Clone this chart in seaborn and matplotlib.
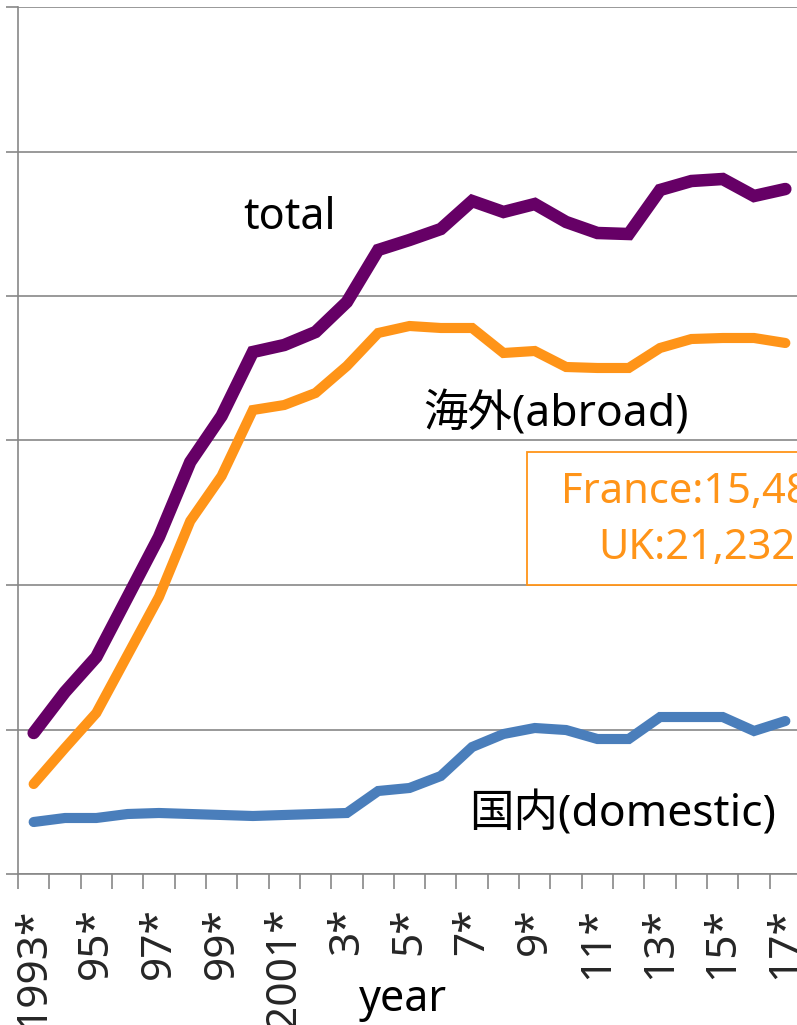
import numpy as np
import pandas as pd
import matplotlib
matplotlib.use("Agg")
import matplotlib.pyplot as plt
import matplotlib.patches as mpatches
import seaborn as sns

years = list(range(1993, 2018))
total = [4879, 6298, 7509, 9585, 11661, 14256, 15848, 18062, 18304, 18754, 19792,
         21592, 21938, 22318, 23287, 22907, 23183, 22561, 22180, 22145, 23668,
         23979, 24048, 23460, 23702]
abroad = [3114, 4360, 5571, 7578, 9585, 12214, 13772, 16055, 16228, 16644, 17578,
          18720, 18962, 18893, 18893, 18028, 18097, 17543, 17509, 17509, 18201,
          18512, 18547, 18547, 18374]
domestic = [1799, 1938, 1938, 2076, 2111, 2076, 2042, 2007, 2042, 2076, 2111,
            2872, 2976, 3391, 4394, 4844, 5052, 4982, 4671, 4671, 5432,
            5432, 5432, 4948, 5294]
tick_years = [1993, 1995, 1997, 1999, 2001, 2003, 2005, 2007, 2009, 2011, 2013, 2015, 2017]
tick_labels = ["1993*", "95*", "97*", "99*", "2001*", "3*", "5*", "7*", "9*",
               "11*", "13*", "15*", "17*"]
y_grid = [0, 5000, 10000, 15000, 20000, 25000, 30000]

sns.set_theme(style="white")
plt.rcParams['font.family'] = ['Noto Sans', 'Noto Sans CJK JP', 'DejaVu Sans']

W, H = 797, 1025
fig = plt.figure(figsize=(W / 100, H / 100), dpi=100)
# axes: left spine x=18, bottom y=874, top y=7, right ~801 (beyond canvas)
ax = fig.add_axes([18 / W, (H - 874) / H, 783 / W, 867 / H])

df = pd.DataFrame({"year": years, "total": total, "abroad": abroad, "domestic": domestic})
grid_c = "#878787"

sns.lineplot(data=df, x="year", y="domestic", ax=ax, color="#4A7EBB", lw=7.3,
             solid_capstyle="round", solid_joinstyle="miter")
sns.lineplot(data=df, x="year", y="abroad", ax=ax, color="#FF9418", lw=7.3,
             solid_capstyle="round", solid_joinstyle="miter")
sns.lineplot(data=df, x="year", y="total", ax=ax, color="#660066", lw=9.0,
             solid_capstyle="round", solid_joinstyle="miter")

ax.set_xlim(years[0] - 0.5, years[-1] + 0.5)
ax.set_ylim(y_grid[0], y_grid[-1])
ax.set_yticks(y_grid)
ax.set_yticklabels([])
ax.yaxis.grid(True, color=grid_c, lw=1.2)
ax.set_axisbelow(True)
ax.tick_params(axis="y", direction="out", length=8.6, width=1.2, color=grid_c, left=True)

ax.set_xticks(tick_years)
ax.set_xticklabels(tick_labels, rotation=90, fontsize=30.5, va="top", ha="center")
ax.set_xticks([y - 0.5 for y in years] + [years[-1] + 0.5], minor=True)
ax.tick_params(axis="x", which="major", length=0, pad=24)
ax.tick_params(axis="x", which="minor", direction="out", length=10.8, width=1.2,
               color=grid_c, bottom=True)
ax.set_xlabel("")
ax.set_ylabel("")
for s in ["top", "right"]:
    ax.spines[s].set_visible(False)
for s in ["left", "bottom"]:
    ax.spines[s].set_color(grid_c)
    ax.spines[s].set_linewidth(1.2)
ax.set_facecolor("white")

def fx(px):
    return px / W

def fy(py):
    return 1 - py / H

fig.text(fx(403), fy(1000), "year", fontsize=31, ha="center", va="center", color="black")
fig.text(fx(290), fy(218), "total", fontsize=31, ha="center", va="center", color="black")
fig.text(fx(556), fy(415), "海外(abroad)", fontsize=32, ha="center", va="center", color="black")
fig.text(fx(623), fy(815), "国内(domestic)", fontsize=32, ha="center", va="center", color="black")

box = mpatches.Rectangle((fx(527), fy(585)), (830 - 527) / W, (585 - 452) / H,
                         transform=fig.transFigure, fill=True, facecolor="white",
                         edgecolor="#FF9418", lw=1.3)
fig.add_artist(box)
fig.text(fx(561), fy(492), "France:15,48", fontsize=30, ha="left", va="center", color="#FF9418")
fig.text(fx(598), fy(548), "UK:21,232", fontsize=30, ha="left", va="center", color="#FF9418")

fig.savefig("out.png", dpi=100, facecolor="white")
